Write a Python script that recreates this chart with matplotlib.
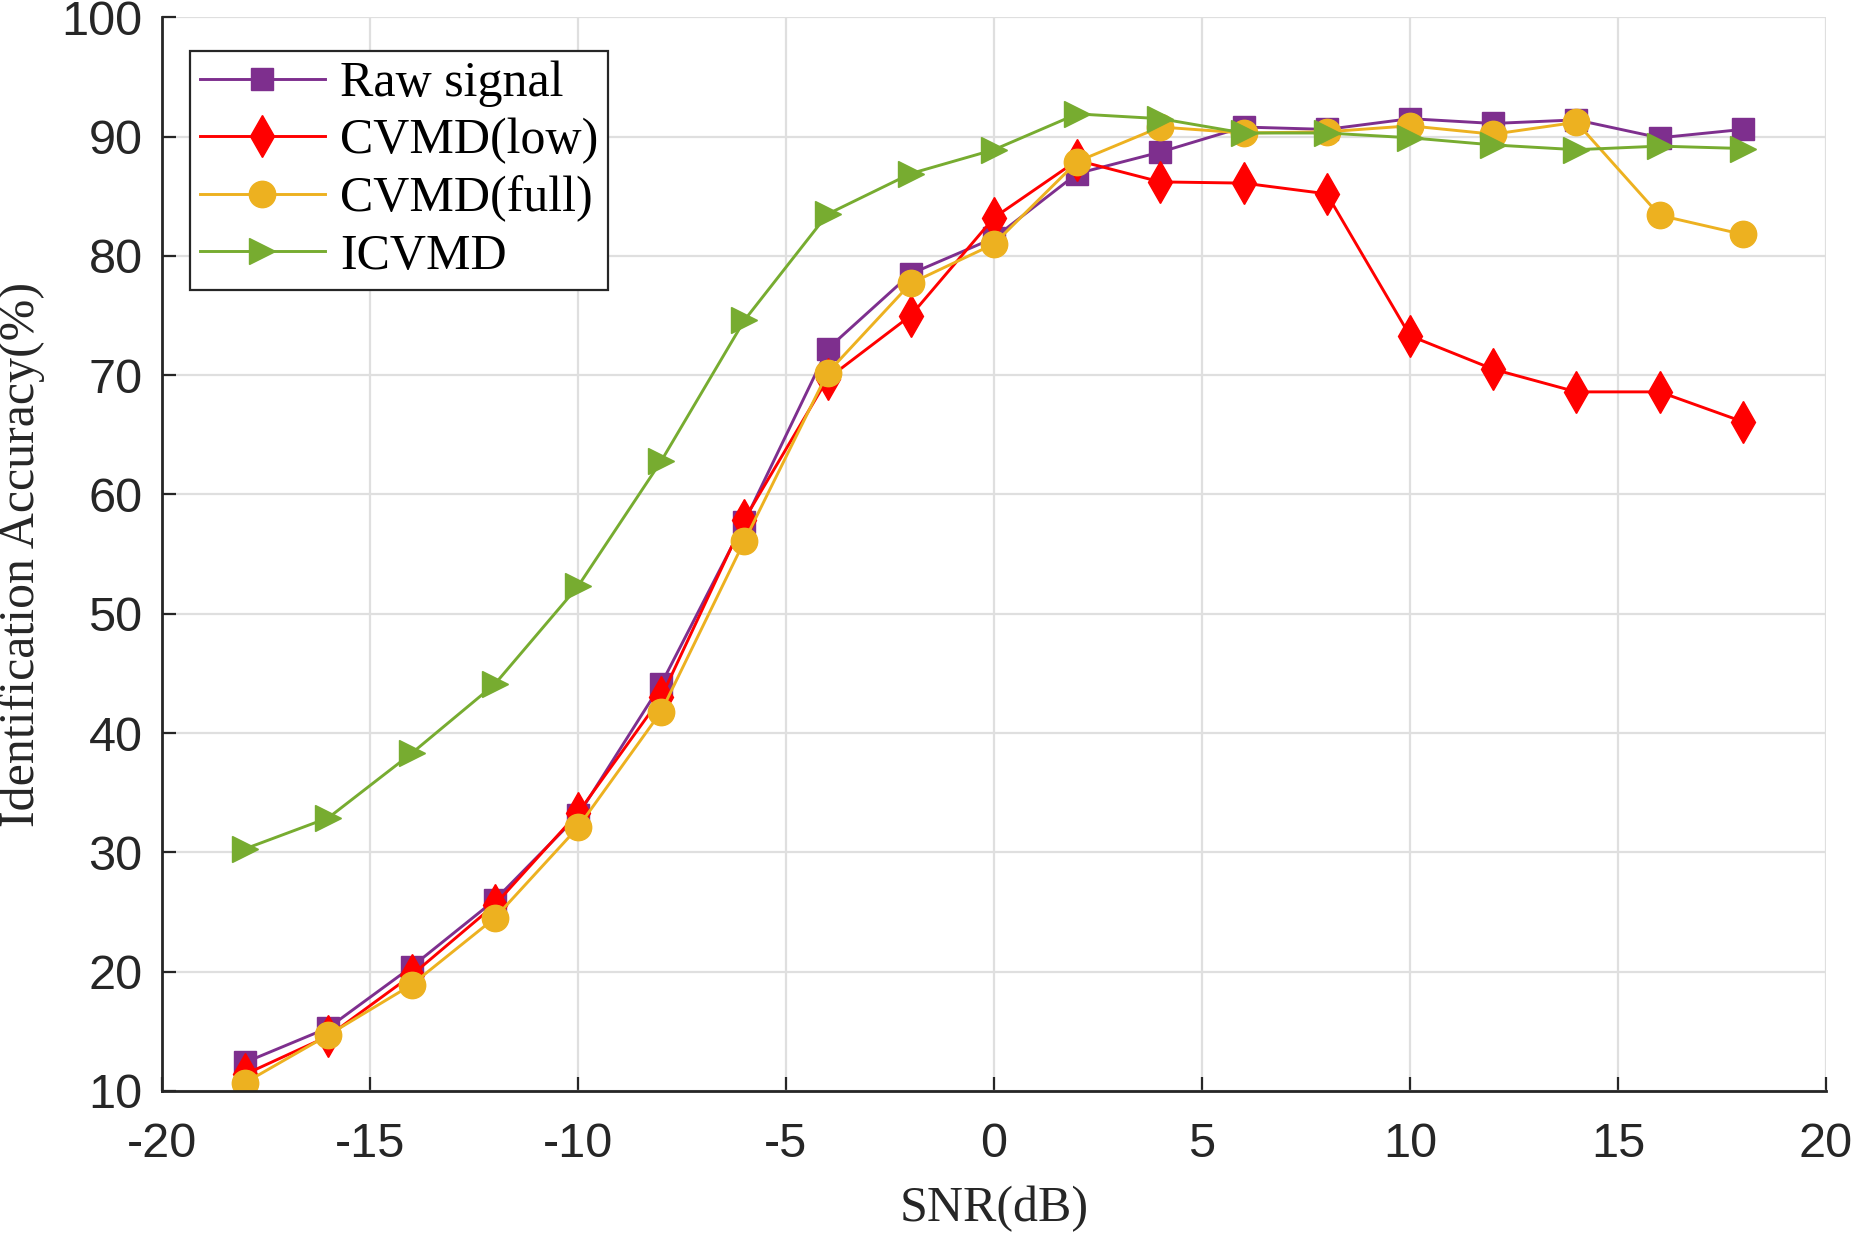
import matplotlib
matplotlib.use("Agg")
import matplotlib.pyplot as plt

plt.rcParams["axes.unicode_minus"] = False

snr = [-18, -16, -14, -12, -10, -8, -6, -4, -2, 0, 2, 4, 6, 8, 10, 12, 14, 16, 18]
raw_signal = [12.4, 15.3, 20.4, 26.0, 33.1, 44.1, 57.7, 72.2, 78.5, 81.5, 86.9, 88.7, 90.8, 90.6, 91.5, 91.1, 91.4, 89.9, 90.6]
cvmd_low = [11.4, 14.6, 19.7, 25.6, 33.3, 43.0, 57.9, 69.7, 75.0, 83.2, 88.0, 86.2, 86.1, 85.2, 73.3, 70.5, 68.6, 68.6, 66.1]
cvmd_full = [10.7, 14.7, 18.9, 24.5, 32.1, 41.8, 56.1, 70.2, 77.7, 81.0, 87.9, 90.8, 90.3, 90.4, 90.9, 90.2, 91.2, 83.4, 81.8]
icvmd = [30.3, 32.9, 38.3, 44.1, 52.3, 62.8, 74.6, 83.5, 86.9, 88.9, 91.9, 91.5, 90.3, 90.3, 89.9, 89.3, 88.9, 89.2, 89.0]
labels = ["Raw signal", "CVMD(low)", "CVMD(full)", "ICVMD"]
xticks = [-20, -15, -10, -5, 0, 5, 10, 15, 20]
yticks = [10, 20, 30, 40, 50, 60, 70, 80, 90, 100]

fig = plt.figure(figsize=(18.51, 12.34), dpi=100)
ax = fig.add_axes([0.0875, 0.1159, 0.899, 0.8701])

lw = 2.1
ax.plot(snr, raw_signal, color="#7E2F8E", marker="s", ms=16, lw=lw, label=labels[0])
ax.plot(snr, cvmd_low, color="#FF0000", marker="d", ms=21, lw=lw, label=labels[1])
ax.plot(snr, cvmd_full, color="#EDB120", marker="o", ms=19, lw=lw, label=labels[2])
ax.plot(snr, icvmd, color="#77AC30", marker=">", ms=19, lw=lw, label=labels[3])

ax.set_xlim(-20, 20)
ax.set_ylim(10, 100)
ax.set_xticks(xticks)
ax.set_yticks(yticks)
ax.grid(True, color="#DFDFDF", lw=1.6)
ax.set_axisbelow(True)
for s in ["top", "right"]:
    ax.spines[s].set_visible(False)
for s in ["left", "bottom"]:
    ax.spines[s].set_color("#262626")
    ax.spines[s].set_linewidth(2.0)
ax.tick_params(direction="in", length=10, width=1.6, colors="#262626",
               labelsize=35, pad=14)
ax.tick_params(axis="x", pad=22)
for t in ax.get_xticklabels() + ax.get_yticklabels():
    t.set_fontfamily("Liberation Sans")
    t.set_color("#262626")

ax.set_xlabel("SNR(dB)", fontsize=36, family="Liberation Serif", color="#262626", labelpad=14)
ax.set_ylabel("Identification Accuracy(%)", fontsize=36, family="Liberation Serif", color="#262626", labelpad=12)

leg = ax.legend(loc="upper left", bbox_to_anchor=(0.0168, 0.969), fancybox=False,
                framealpha=1, edgecolor="#262626", borderaxespad=0,
                prop={"family": "Liberation Serif", "size": 36},
                handlelength=2.5, handletextpad=0.3, labelspacing=0.22,
                borderpad=0.2)
leg.get_frame().set_linewidth(1.6)

fig.savefig("out.png", dpi=100)
